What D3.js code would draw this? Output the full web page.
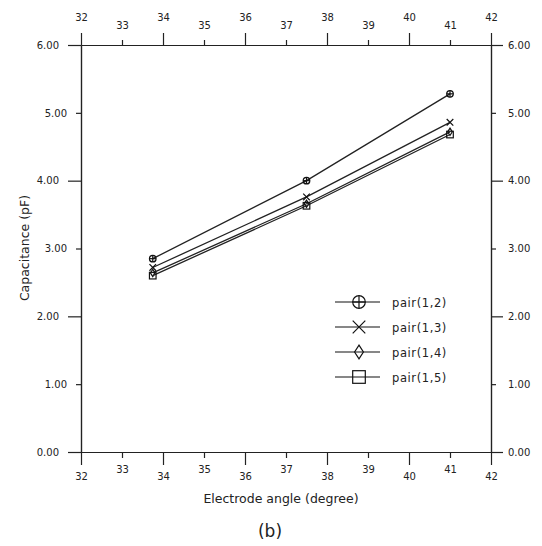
<!DOCTYPE html>
<html>
<head>
<meta charset="utf-8">
<script src="https://cdn.jsdelivr.net/npm/d3@7/dist/d3.min.js"></script>
<style>
  body { margin: 0; background: #fff; }
  svg text { font-family: "DejaVu Sans", Verdana, sans-serif; fill: #222; }
</style>
</head>
<body>
<svg id="chart" width="542" height="546"></svg>
<script>
// data
const angles = [33.75, 37.5, 41]
const pairNames = ['pair(1,2)', 'pair(1,3)', 'pair(1,4)', 'pair(1,5)']
const pair12 = [2.85, 4.00, 5.28]
const pair13 = [2.72, 3.76, 4.86]
const pair14 = [2.64, 3.66, 4.72]
const pair15 = [2.60, 3.63, 4.68]
const markers = ['circle', 'cross', 'diamond', 'square']
const xMajor = [32, 34, 36, 38, 40, 42]
const xMinor = [33, 35, 37, 39, 41]
const yMajor = [0, 2, 4, 6]
const yMinor = [1, 3, 5]

const series = [pair12, pair13, pair14, pair15].map((v, i) => ({
    name: pairNames[i], marker: markers[i],
    pts: v.map((d, j) => [angles[j], d])
}))

let svg = d3.select('#chart')
let pLeft = 81, pRight = 491, pTop = 45, pBottom = 452
let x = d3.scaleLinear().domain([32, 42]).range([pLeft, pRight])
let y = d3.scaleLinear().domain([0, 6]).range([pBottom, pTop])

function styleAxis(g) {
    g.select('.domain').attr('stroke', '#222').attr('stroke-width', 1.2)
    g.selectAll('.tick line').attr('stroke', '#222').attr('stroke-width', 1.2)
    g.selectAll('.tick text').attr('font-size', 10).attr('fill', '#222')
}

// bottom / top axes: long ticks on even values, short on odd
let xf = d3.format('d')
svg.append('g').attr('transform', `translate(0,${pBottom})`)
    .call(d3.axisBottom(x).tickValues(xMajor).tickFormat(xf).tickSize(13).tickSizeOuter(0).tickPadding(8)).call(styleAxis)
svg.append('g').attr('transform', `translate(0,${pBottom})`)
    .call(d3.axisBottom(x).tickValues(xMinor).tickFormat(xf).tickSize(6).tickSizeOuter(0).tickPadding(8)).call(styleAxis)
svg.append('g').attr('transform', `translate(0,${pTop})`)
    .call(d3.axisTop(x).tickValues(xMajor).tickFormat(xf).tickSize(12).tickSizeOuter(0).tickPadding(12)).call(styleAxis)
svg.append('g').attr('transform', `translate(0,${pTop})`)
    .call(d3.axisTop(x).tickValues(xMinor).tickFormat(xf).tickSize(5).tickSizeOuter(0).tickPadding(11)).call(styleAxis)

// left / right axes
let yf = d3.format('.2f')
svg.append('g').attr('transform', `translate(${pLeft},0)`)
    .call(d3.axisLeft(y).tickValues(yMajor).tickFormat(yf).tickSize(13).tickSizeOuter(0).tickPadding(9)).call(styleAxis)
svg.append('g').attr('transform', `translate(${pLeft},0)`)
    .call(d3.axisLeft(y).tickValues(yMinor).tickFormat(yf).tickSize(5).tickSizeOuter(0).tickPadding(9)).call(styleAxis)
svg.append('g').attr('transform', `translate(${pRight},0)`)
    .call(d3.axisRight(y).tickValues(yMajor).tickFormat(yf).tickSize(12).tickSizeOuter(0).tickPadding(5)).call(styleAxis)
svg.append('g').attr('transform', `translate(${pRight},0)`)
    .call(d3.axisRight(y).tickValues(yMinor).tickFormat(yf).tickSize(5).tickSizeOuter(0).tickPadding(12)).call(styleAxis)

// marker drawing
function drawMarker(g, type, s) {
    g = g.attr('fill', 'none').attr('stroke', '#111').attr('stroke-width', 1.2)
    if (type == 'circle') {
        g.append('circle').attr('r', s)
        g.append('line').attr('x1', -s).attr('x2', s)
        g.append('line').attr('y1', -s).attr('y2', s)
    } else if (type == 'cross') {
        g.append('path').attr('d', `M${-s},${-s}L${s},${s}M${-s},${s}L${s},${-s}`)
    } else if (type == 'diamond') {
        g.append('path').attr('d', `M0,${-s * 1.1}L${s * 0.7},0L0,${s * 1.1}L${-s * 0.7},0Z`)
    } else {
        g.append('rect').attr('x', -s).attr('y', -s).attr('width', 2 * s).attr('height', 2 * s)
    }
}

let line = d3.line().x(d => x(d[0])).y(d => y(d[1]))
series.forEach(s => {
    svg.append('path').datum(s.pts).attr('d', line)
        .attr('fill', 'none').attr('stroke', '#222').attr('stroke-width', 1.3)
    s.pts.forEach(p => {
        let g = svg.append('g').attr('transform', `translate(${x(p[0])},${y(p[1])})`)
        drawMarker(g, s.marker, 3.3)
    })
})

// legend
let legend = svg.append('g').attr('transform', 'translate(335,302)')
series.forEach((s, i) => {
    let row = legend.append('g').attr('transform', `translate(0,${i * 25})`)
    row.append('line').attr('x1', 0).attr('x2', 45).attr('stroke', '#111').attr('stroke-width', 1.2)
    drawMarker(row.append('g').attr('transform', 'translate(24,0)'), s.marker, 6.3)
    row.append('text').attr('x', 57).attr('y', 4.5).attr('font-size', 11.5)
        .attr('letter-spacing', 0.6).text(s.name)
})

// titles
svg.append('text').attr('x', 281).attr('y', 503).attr('text-anchor', 'middle')
    .attr('font-size', 12.5).text('Electrode angle (degree)')
svg.append('text').attr('transform', 'translate(29,248) rotate(-90)').attr('text-anchor', 'middle')
    .attr('font-size', 12.5).text('Capacitance (pF)')
svg.append('text').attr('x', 270).attr('y', 537).attr('text-anchor', 'middle')
    .attr('font-size', 17).text('(b)')
</script>
</body>
</html>
